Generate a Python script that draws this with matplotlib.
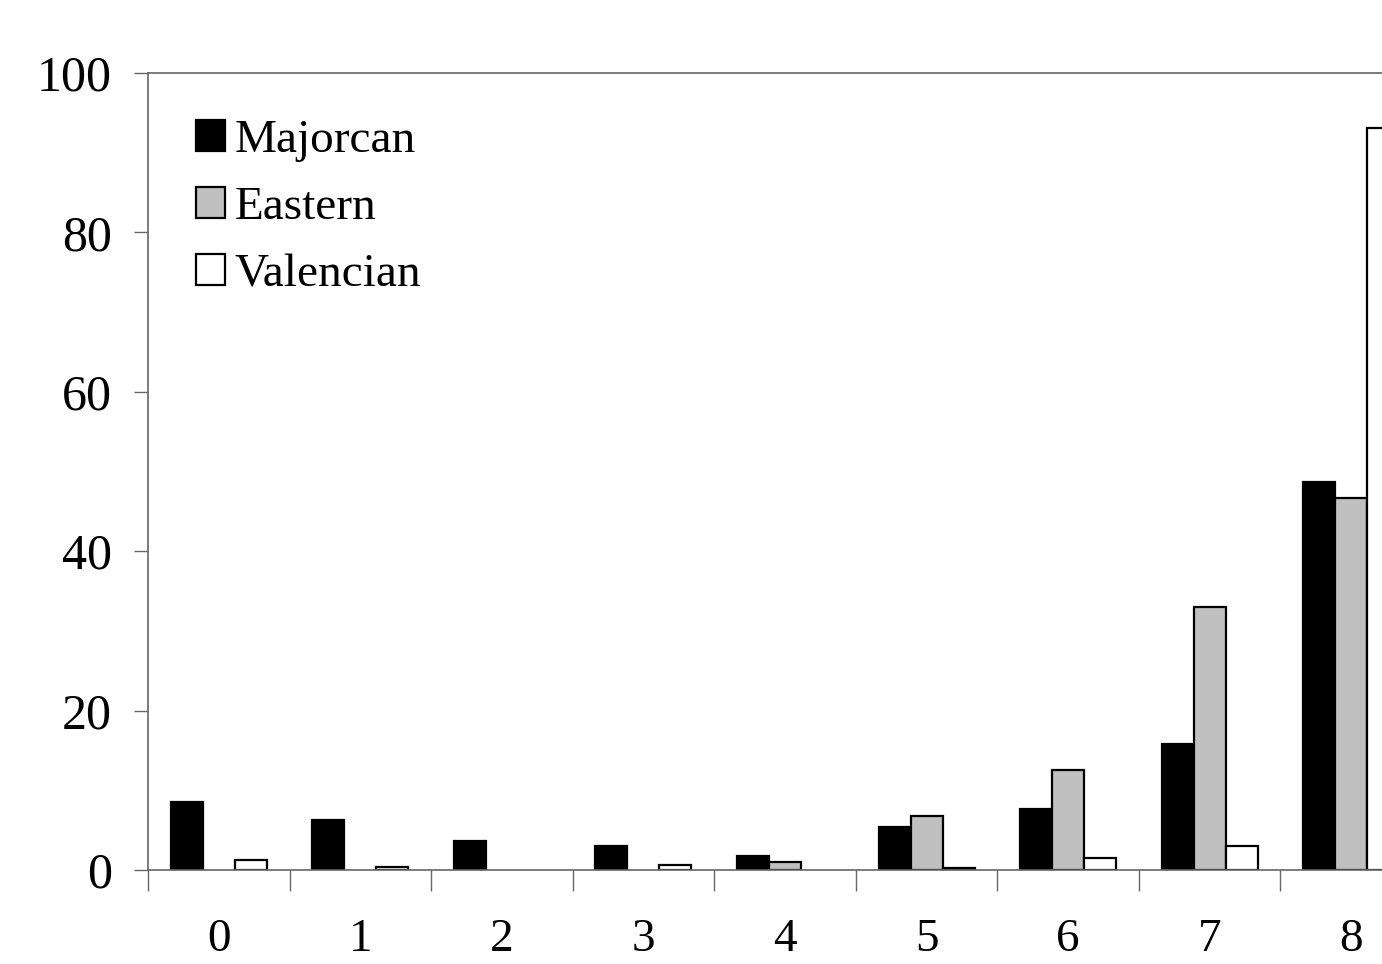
import numpy as np
import matplotlib.pyplot as plt
from matplotlib.patches import Patch

# --- Data ---
categories = ["0", "1", "2", "3", "4", "5", "6", "7", "8"]
series = ["Majorcan", "Eastern", "Valencian"]
colors = ["black", "#c0c0c0", "white"]
majorcan = [8.5, 6.3, 3.6, 3.0, 1.75, 5.4, 7.65, 15.8, 48.7]
eastern = [0, 0, 0, 0, 1.0, 6.8, 12.5, 33.0, 46.7]
valencian = [1.25, 0.4, 0, 0.6, 0, 0.3, 1.5, 3.0, 93.1]

plt.rcParams["font.family"] = ["Liberation Serif", "DejaVu Serif"]

fig = plt.figure(figsize=(13.82, 9.64), dpi=100)
# axes runs past the right edge, the original is cropped there
ax = fig.add_axes([148 / 1382, 94 / 964, 1274 / 1382, 797 / 964])

x = np.arange(len(categories))
w = 0.226
for i, (vals, c) in enumerate(zip([majorcan, eastern, valencian], colors)):
    bc = ax.bar(x + (i - 1) * w, vals, width=w, color=c, edgecolor="black", linewidth=1.6)
    # empty bars draw nothing in the original
    for p in bc.patches:
        if p.get_height() == 0:
            p.set_visible(False)

ax.set_xlim(-0.5, len(categories) - 0.5)
ax.set_ylim(0, 100)
ax.set_yticks([0, 20, 40, 60, 80, 100])

# ticks on category boundaries, labels centred under categories
ax.set_xticks(np.arange(len(categories) + 1) - 0.5)
ax.set_xticklabels([])
ax.set_xticks(x, minor=True)
ax.set_xticklabels(categories, minor=True)
ax.tick_params(axis="x", which="major", direction="out", length=15, width=1, color="#666666")
ax.tick_params(axis="x", which="minor", length=0, pad=35, labelsize=34)
ax.tick_params(axis="y", direction="out", length=10, width=1, color="#666666", labelsize=36, pad=16)

for side in ["left", "bottom", "top", "right"]:
    ax.spines[side].set_color("#666666")
    ax.spines[side].set_linewidth(1.2)

handles = [Patch(facecolor=c, edgecolor="black", linewidth=1.6) for c in colors]
ax.legend(handles, series, loc="upper left", bbox_to_anchor=(0.023, 0.965), frameon=False,
          fontsize=34, handlelength=0.62, handleheight=0.62,
          handletextpad=0.2, labelspacing=0.52, borderaxespad=0)

fig.savefig("out.png", dpi=100)
